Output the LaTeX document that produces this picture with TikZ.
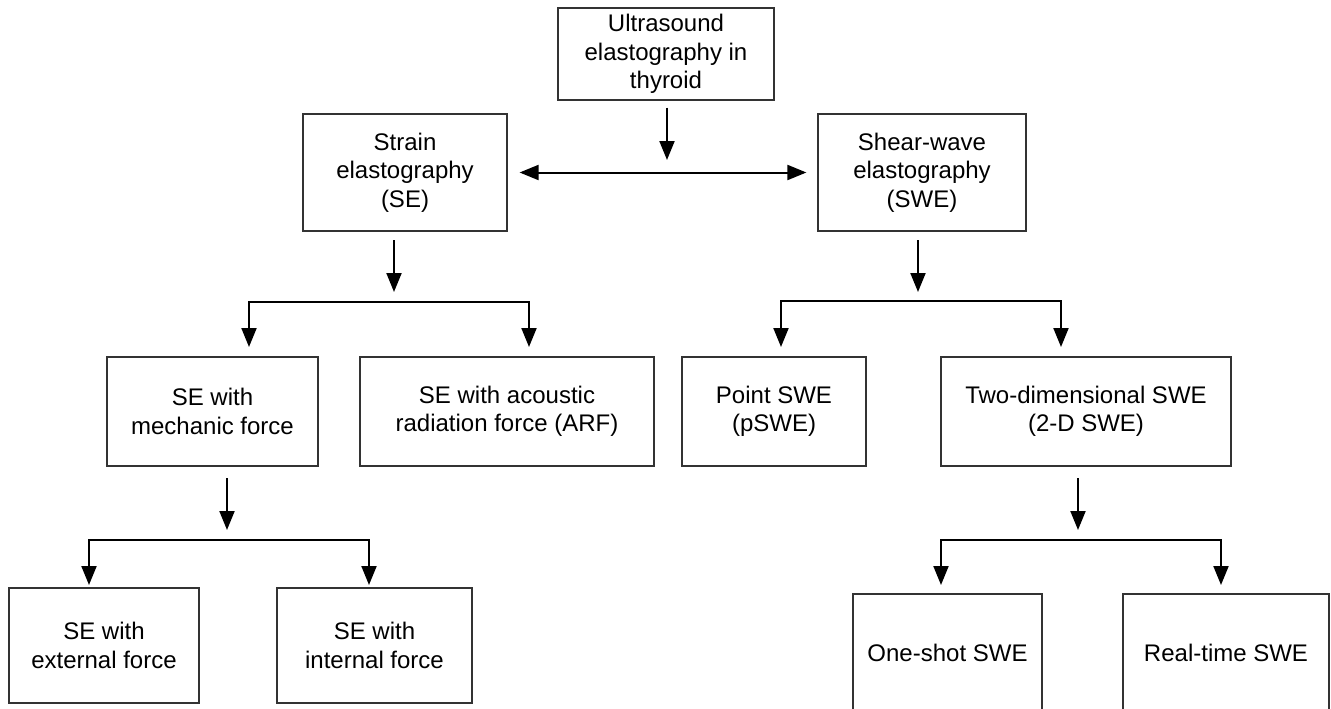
\documentclass[tikz,border=0pt]{standalone}
\usepackage{fontspec}
\setmainfont{Liberation Sans}
\usetikzlibrary{arrows.meta}
\definecolor{boxline}{HTML}{333333}
\begin{document}
\begin{tikzpicture}[x=1pt,y=-1pt,
  box/.style={draw=boxline, line width=1.2pt, align=center, inner sep=0pt, text=black,
    font=\fontsize{24}{28.5}\selectfont},
  conn/.style={line width=2pt, -{Triangle[length=19pt,width=15pt]}},
  bconn/.style={line width=2pt, {Triangle[length=19pt,width=15pt]}-{Triangle[length=19pt,width=15pt]}},
]
\useasboundingbox (0,0) rectangle (1331,709);
% nodes
\node[box, minimum width=216pt, minimum height=92pt] (top) at (666,54) {Ultrasound\\elastography in\\thyroid};
\node[box, minimum width=204pt, minimum height=117pt] (se) at (405,172.5) {Strain\\elastography\\(SE)};
\node[box, minimum width=208pt, minimum height=117pt] (swe) at (922,172.5) {Shear-wave\\elastography\\(SWE)};
\node[box, minimum width=211pt, minimum height=109pt] (mech) at (212.5,411.5) {SE with\\mechanic force};
\node[box, minimum width=294pt, minimum height=109pt] (arf) at (507,411.5) {SE with acoustic\\radiation force (ARF)};
\node[box, minimum width=184pt, minimum height=109pt] (pswe) at (774,411.5) {Point SWE\\(pSWE)};
\node[box, minimum width=290pt, minimum height=109pt] (twod) at (1086,411.5) {Two-dimensional SWE\\(2-D SWE)};
\node[box, minimum width=190pt, minimum height=115pt] (ext) at (104,645.5) {SE with\\external force};
\node[box, minimum width=195pt, minimum height=115pt] (int) at (374.5,645.5) {SE with\\internal force};
\node[box, minimum width=189pt, minimum height=118pt] (one) at (947.5,653) {One-shot SWE};
\node[box, minimum width=206pt, minimum height=118pt] (real) at (1226,653) {Real-time SWE};
% coordinates
\coordinate (topE) at (667,160);
\coordinate (seA) at (394,240);   \coordinate (seB) at (394,292);
\coordinate (seL) at (249,347);   \coordinate (seR) at (529,347);
\coordinate (sweA) at (918,240);  \coordinate (sweB) at (918,292);
\coordinate (sweL) at (781,347);  \coordinate (sweR) at (1061,347);
\coordinate (meA) at (227,478);   \coordinate (meB) at (227,530);
\coordinate (meL) at (89,585);    \coordinate (meR) at (369,585);
\coordinate (tdA) at (1078,478);  \coordinate (tdB) at (1078,530);
\coordinate (tdL) at (941,585);   \coordinate (tdR) at (1221,585);
% connectors
\draw[conn] ([xshift=1pt,yshift=-7pt]top.south) -- (topE);
\draw[bconn] ([xshift=12pt]se.east) -- ([xshift=-11pt]swe.west);
\draw[conn] (seA) -- (seB);
\draw[bconn] (seL) -- (seL |- 0,302) -- (seR |- 0,302) -- (seR);
\draw[conn] (sweA) -- (sweB);
\draw[bconn] (sweL) -- (sweL |- 0,301) -- (sweR |- 0,301) -- (sweR);
\draw[conn] (meA) -- (meB);
\draw[bconn] (meL) -- (meL |- 0,540) -- (meR |- 0,540) -- (meR);
\draw[conn] (tdA) -- (tdB);
\draw[bconn] (tdL) -- (tdL |- 0,540) -- (tdR |- 0,540) -- (tdR);
\end{tikzpicture}
\end{document}
